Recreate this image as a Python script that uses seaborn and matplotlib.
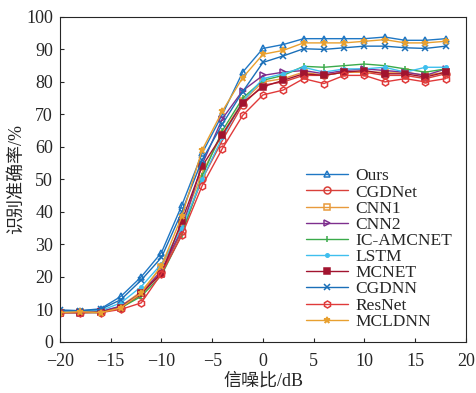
import numpy as np
import pandas as pd
import seaborn as sns
import matplotlib.pyplot as plt

snr = list(range(-20, 20, 2))

ours     = [9.8, 9.6, 10.2, 14.0, 20.0, 27.5, 42.0, 58.0, 70.0, 83.0, 90.3, 91.5, 93.3, 93.3, 93.3, 93.3, 93.8, 92.8, 92.8, 93.3]
cgdnet   = [9.2, 9.2, 9.3, 10.5, 14.5, 21.5, 34.0, 50.0, 62.0, 73.0, 79.0, 80.0, 82.0, 82.0, 83.0, 83.0, 82.0, 82.0, 81.0, 82.5]
cnn1     = [9.0, 9.2, 9.2, 11.0, 15.5, 23.0, 36.0, 52.0, 64.0, 74.0, 80.0, 81.0, 83.0, 82.0, 83.0, 83.0, 83.0, 83.0, 82.0, 83.0]
cnn2     = [9.3, 9.2, 9.4, 11.0, 15.0, 22.0, 34.7, 54.6, 68.7, 77.3, 82.0, 83.0, 83.5, 82.5, 83.5, 84.0, 83.5, 83.0, 82.0, 84.0]
icamcnet = [9.0, 9.0, 9.0, 10.5, 14.0, 20.5, 33.0, 51.0, 65.0, 75.0, 80.5, 82.0, 84.8, 84.5, 85.0, 85.5, 85.0, 84.0, 83.0, 84.0]
lstm     = [9.5, 9.4, 9.6, 12.0, 17.0, 24.0, 35.0, 50.0, 63.0, 74.0, 81.0, 82.5, 84.5, 83.0, 84.0, 84.0, 84.5, 83.0, 84.5, 84.5]
mcnet    = [9.0, 9.0, 9.2, 10.5, 15.0, 21.0, 37.2, 54.0, 63.8, 73.6, 78.5, 80.5, 82.5, 82.0, 83.0, 83.5, 82.5, 82.5, 81.5, 83.0]
cgdnn    = [9.7, 9.6, 10.0, 13.0, 19.0, 26.0, 40.0, 56.0, 67.0, 77.0, 86.0, 88.0, 90.2, 90.0, 90.5, 91.0, 91.0, 90.5, 90.3, 91.0]
resnet   = [9.0, 9.0, 9.0, 10.0, 12.0, 21.0, 32.8, 48.0, 59.5, 69.7, 76.0, 77.5, 81.0, 79.5, 82.0, 82.0, 80.0, 81.0, 80.0, 81.0]
mcldnn   = [9.0, 9.3, 9.0, 10.5, 15.0, 23.5, 38.6, 59.0, 71.0, 81.3, 88.5, 89.7, 92.0, 92.0, 92.0, 92.5, 93.0, 92.0, 92.0, 92.5]

names = ["Ours", "CGDNet", "CNN1", "CNN2", "IC-AMCNET", "LSTM", "MCNET", "CGDNN", "ResNet", "MCLDNN"]
series = [ours, cgdnet, cnn1, cnn2, icamcnet, lstm, mcnet, cgdnn, resnet, mcldnn]
colors = ["#1f77c4", "#d9403a", "#e89a3c", "#7e2f8e", "#3aaa4a", "#3fbfee", "#a2142f", "#1a6fb8", "#e03a3a", "#e8a030"]
markers = ["^", "o", "s", ">", "|", ".", "s", "x", "h", "*"]
filled = [False, False, False, False, True, True, True, True, False, True]

sns.set_style("ticks")
plt.rcParams['font.family'] = ['Liberation Serif', 'Noto Sans CJK SC']

fig = plt.figure(figsize=(4.76, 3.93), dpi=100)
ax = fig.add_axes([0.126, 0.13, 0.853, 0.827])

for name, vals, c, m, f in zip(names, series, colors, markers, filled):
    sns.lineplot(x=snr, y=vals, ax=ax, color=c, marker=m, label=name,
                 markersize=5, linewidth=1.0,
                 markerfacecolor=c if f else 'none', markeredgecolor=c,
                 markeredgewidth=1.1)

ax.set_xlim(-20, 20)
ax.set_ylim(0, 100)
ax.set_xticks(range(-20, 21, 5))
ax.set_yticks(range(0, 101, 10))
ax.tick_params(direction='in', labelsize=13, length=3, top=False, right=False)
ax.tick_params(axis='x', pad=8)
ax.tick_params(axis='y', pad=5)
for s in ax.spines.values():
    s.set_visible(True)
    s.set_linewidth(0.8)
ax.set_xlabel("信噪比/dB", fontsize=13, labelpad=2)
ax.set_ylabel("识别准确率/%", fontsize=13, labelpad=1)

ax.legend(loc='lower right', bbox_to_anchor=(0.995, 0.0), frameon=False, fontsize=12.5,
          handlelength=2.4, labelspacing=0.0, borderaxespad=0.3, handletextpad=0.4)

fig.savefig("out.png", dpi=100)
